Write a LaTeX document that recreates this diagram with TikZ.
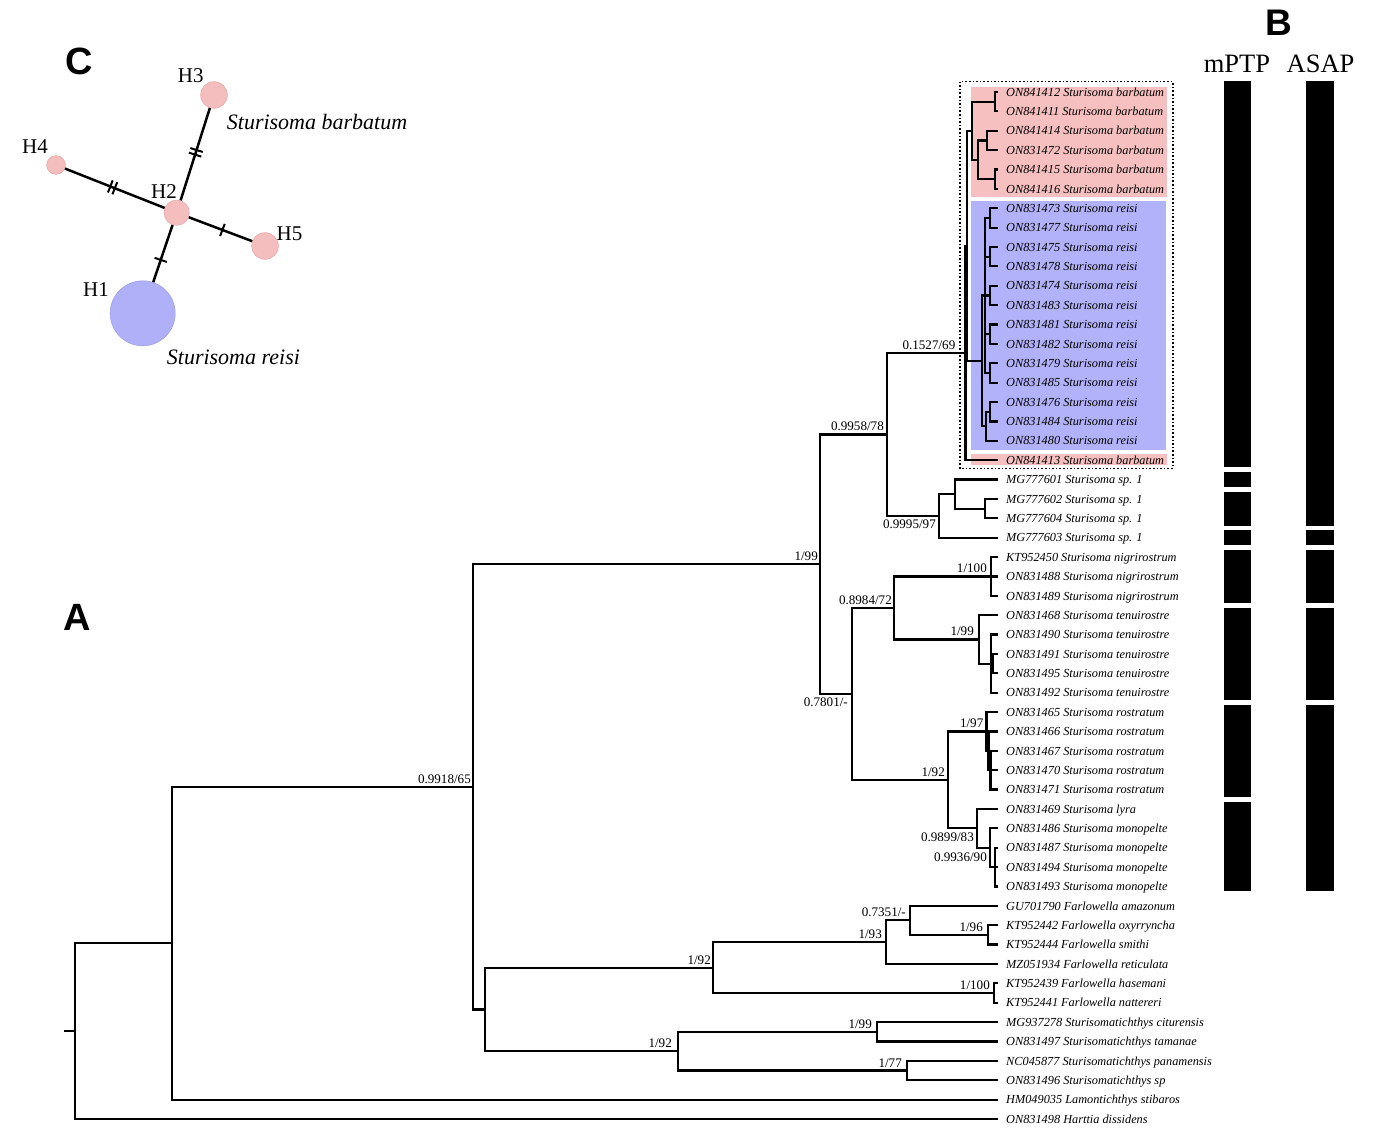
\documentclass[tikz,border=0pt]{standalone}
\usepackage{fontspec}
\setmainfont{Liberation Serif}
\newfontfamily\panelfont{Liberation Sans}
\definecolor{pinkbox}{RGB}{247,192,192}
\definecolor{bluebox}{RGB}{178,178,250}
\definecolor{pinkhap}{RGB}{245,190,190}
\definecolor{bluehap}{RGB}{176,176,248}
\definecolor{pinkhapd}{RGB}{232,170,170}
\definecolor{bluehapd}{RGB}{160,160,235}
\newcommand\clade[2]{\foreach \ch in {#2}{\draw[br] (#1) |- (\ch);}}
\begin{document}
\begin{tikzpicture}[x=1pt,y=-1pt,
  br/.style={line width=2.2pt},
  leaf/.style={anchor=base west, inner sep=0pt, font=\fontsize{12.3}{12.3}\selectfont\itshape},
  bsup/.style={anchor=base east, inner sep=0pt, font=\fontsize{13.1}{13.1}\selectfont},
  panel/.style={anchor=base, inner sep=0pt, font=\panelfont\bfseries\fontsize{38}{38}\selectfont},
  hap/.style={circle, inner sep=0pt, line width=0.6pt},
  hlab/.style={anchor=base, inner sep=0pt, font=\fontsize{21}{21}\selectfont},
  spn/.style={anchor=base west, inner sep=0pt, font=\fontsize{22}{22}\selectfont\itshape},
  hedge/.style={line width=2.5pt},
  tick/.style={sloped, draw, inner sep=0pt, minimum width=0pt, minimum height=13pt, line width=2pt},
  colhead/.style={anchor=base, inner sep=0pt, font=\fontsize{26.5}{26.5}\selectfont},
]
\useasboundingbox (0,0) rectangle (1377,1145);

% ---------- coloured clade boxes ----------
\fill[pinkbox] (970.7,86.7) rectangle (1167,197);
\fill[bluebox] (970.7,200.7) rectangle (1166,450);
\fill[pinkbox] (970.7,454.3) rectangle (1167,465);

% ---------- leaves ----------
\foreach \i/\lab in {
 1/ON841412 Sturisoma barbatum, 2/ON841411 Sturisoma barbatum, 3/ON841414 Sturisoma barbatum,
 4/ON831472 Sturisoma barbatum, 5/ON841415 Sturisoma barbatum, 6/ON841416 Sturisoma barbatum,
 7/ON831473 Sturisoma reisi, 8/ON831477 Sturisoma reisi, 9/ON831475 Sturisoma reisi,
 10/ON831478 Sturisoma reisi, 11/ON831474 Sturisoma reisi, 12/ON831483 Sturisoma reisi,
 13/ON831481 Sturisoma reisi, 14/ON831482 Sturisoma reisi, 15/ON831479 Sturisoma reisi,
 16/ON831485 Sturisoma reisi, 17/ON831476 Sturisoma reisi, 18/ON831484 Sturisoma reisi,
 19/ON831480 Sturisoma reisi, 20/ON841413 Sturisoma barbatum,
 21/MG777601 Sturisoma sp. 1, 22/MG777602 Sturisoma sp. 1, 23/MG777604 Sturisoma sp. 1,
 24/MG777603 Sturisoma sp. 1,
 25/KT952450 Sturisoma nigrirostrum, 26/ON831488 Sturisoma nigrirostrum, 27/ON831489 Sturisoma nigrirostrum,
 28/ON831468 Sturisoma tenuirostre, 29/ON831490 Sturisoma tenuirostre, 30/ON831491 Sturisoma tenuirostre,
 31/ON831495 Sturisoma tenuirostre, 32/ON831492 Sturisoma tenuirostre,
 33/ON831465 Sturisoma rostratum, 34/ON831466 Sturisoma rostratum, 35/ON831467 Sturisoma rostratum,
 36/ON831470 Sturisoma rostratum, 37/ON831471 Sturisoma rostratum,
 38/ON831469 Sturisoma lyra,
 39/ON831486 Sturisoma monopelte, 40/ON831487 Sturisoma monopelte, 41/ON831494 Sturisoma monopelte,
 42/ON831493 Sturisoma monopelte,
 43/GU701790 Farlowella amazonum, 44/KT952442 Farlowella oxyrryncha, 45/KT952444 Farlowella smithi,
 46/MZ051934 Farlowella reticulata, 47/KT952439 Farlowella hasemani, 48/KT952441 Farlowella nattereri,
 49/MG937278 Sturisomatichthys citurensis, 50/ON831497 Sturisomatichthys tamanae,
 51/NC045877 Sturisomatichthys panamensis, 52/ON831496 Sturisomatichthys sp,
 53/HM049035 Lamontichthys stibaros, 54/ON831498 Harttia dissidens}{
  \pgfmathsetmacro\yy{92+(\i-1)*19.377}
  \coordinate (t\i) at (998,\yy);
  \node[leaf] (l\i) at (1006,\yy+4.2) {\lab};
}

% ---------- internal nodes ----------
\coordinate (rs) at (64,1031.1);
\coordinate (root) at (75,1031.1);
\coordinate (n172) at (172,943.2);
\coordinate (n473) at (473,786.8);
\coordinate (n485) at (485,1009.4);
\coordinate (n820) at (820,564.2);
\coordinate (n887) at (887,434.4);
\coordinate (n966) at (965.5,353.0);
\coordinate (nbr) at (967,245.9);
\coordinate (nb5) at (972,130.8);
\coordinate (nb1) at (995,101.7);
\coordinate (nb4) at (978,159.8);
\coordinate (nb2) at (987,140.5);
\coordinate (nb3) at (995,179.2);
\coordinate (nr) at (982,360.9);
\coordinate (nr1) at (985,295.5);
\coordinate (p1) at (990,218.0);
\coordinate (p2) at (990,256.7);
\coordinate (p3) at (990,295.5);
\coordinate (p4) at (990,334.2);
\coordinate (p5) at (990,373.0);
\coordinate (p6) at (986,426.2);
\coordinate (p6a) at (990,411.7);
\coordinate (n939) at (939,515.9);
\coordinate (n955) at (955,494.1);
\coordinate (n985s) at (985,508.6);
\coordinate (n852) at (852,693.9);
\coordinate (n894) at (894,607.9);
\coordinate (n991n) at (991,576.4);
\coordinate (n979) at (979,639.4);
\coordinate (n991t) at (991,663.6);
\coordinate (n993t) at (993,663.6);
\coordinate (n948) at (948,779.8);
\coordinate (n987r) at (986.5,731.4);
\coordinate (n988) at (988.5,750.8);
\coordinate (n989r) at (990.5,770.2);
\coordinate (n977) at (977,828.3);
\coordinate (n990m) at (990,847.7);
\coordinate (n995m) at (995,867.1);
\coordinate (f5) at (713,967.6);
\coordinate (f3) at (886,942.1);
\coordinate (f2) at (910,920.3);
\coordinate (f1) at (988,934.9);
\coordinate (f4) at (994,993.0);
\coordinate (s3) at (678,1051.1);
\coordinate (s1) at (877,1031.8);
\coordinate (s2) at (907,1070.5);

% ---------- branches ----------
\draw[br] (rs) -- (root);
\clade{root}{n172,t54}
\clade{n172}{n473,t53}
\clade{n473}{n820,n485}
\clade{n820}{n887,n852}
\clade{n887}{n966,n939}
\clade{n966}{nbr,t20}
\clade{nbr}{nb5,nr}
\clade{nb5}{nb1,nb4}
\clade{nb1}{t1,t2}
\clade{nb4}{nb2,nb3}
\clade{nb2}{t3,t4}
\clade{nb3}{t5,t6}
\clade{nr}{nr1,p6}
\clade{nr1}{p1,p2,p3,p4,p5}
\clade{p1}{t7,t8}
\clade{p2}{t9,t10}
\clade{p3}{t11,t12}
\clade{p4}{t13,t14}
\clade{p5}{t15,t16}
\clade{p6}{p6a,t19}
\clade{p6a}{t17,t18}
\clade{n939}{n955,t24}
\clade{n955}{t21,n985s}
\clade{n985s}{t22,t23}
\clade{n852}{n894,n948}
\clade{n894}{n991n,n979}
\clade{n991n}{t25,t26,t27}
\clade{n979}{t28,n991t}
\clade{n991t}{t29,n993t,t32}
\clade{n993t}{t30,t31}
\clade{n948}{n987r,n977}
\clade{n987r}{t33,n988}
\clade{n988}{t34,n989r}
\clade{n989r}{t35,t36,t37}
\clade{n977}{t38,n990m}
\clade{n990m}{t39,n995m}
\clade{n995m}{t40,t41,t42}
\clade{n485}{f5,s3}
\clade{f5}{f3,f4}
\clade{f3}{f2,t46}
\clade{f2}{t43,f1}
\clade{f1}{t44,t45}
\clade{f4}{t47,t48}
\clade{s3}{s1,s2}
\clade{s1}{t49,t50}
\clade{s2}{t51,t52}

% dotted frame round the barbatum/reisi clade
\draw[line width=1.6pt, dotted] (960,81.7) rectangle (1172.7,468.3);

% ---------- support values ----------
\node[bsup, xshift=-2pt, yshift=3.5pt] (sv1) at (n473) {0.9918/65};
\node[bsup, xshift=-2pt, yshift=3.5pt] (sv2) at (n820) {1/99};
\node[bsup, xshift=-3pt, yshift=3.5pt] (sv3) at (n887) {0.9958/78};
\node[bsup, xshift=-10pt, yshift=3.5pt] (sv4) at (n966) {0.1527/69};
\node[bsup, xshift=-3pt, yshift=-12.5pt] (sv5) at (n939) {0.9995/97};
\node[bsup, xshift=-4pt, yshift=-13pt] (sv6) at (n852) {0.7801/-};
\node[bsup, xshift=-2pt, yshift=3.5pt] (sv7) at (n894) {0.8984/72};
\node[bsup, xshift=-4pt, yshift=3.5pt] (sv8) at (n991n) {1/100};
\node[bsup, xshift=-5pt, yshift=3.5pt] (sv9) at (n979) {1/99};
\node[bsup, xshift=-3pt, yshift=3.5pt] (sv10) at (n987r) {1/97};
\node[bsup, xshift=-3pt, yshift=3.5pt] (sv11) at (n948) {1/92};
\node[bsup, xshift=-3pt, yshift=-13pt] (sv12) at (n977) {0.9899/83};
\node[bsup, xshift=-3pt, yshift=-13.5pt] (sv13) at (n990m) {0.9936/90};
\node[bsup, xshift=-4pt, yshift=3.5pt] (sv14) at (f2) {0.7351/-};
\node[bsup, xshift=-4pt, yshift=3.5pt] (sv15) at (f3) {1/93};
\node[bsup, xshift=-5pt, yshift=3.5pt] (sv16) at (f1) {1/96};
\node[bsup, xshift=-2pt, yshift=3.5pt] (sv17) at (f5) {1/92};
\node[bsup, xshift=-4pt, yshift=3.5pt] (sv18) at (f4) {1/100};
\node[bsup, xshift=-5pt, yshift=3.5pt] (sv19) at (s1) {1/99};
\node[bsup, xshift=-5pt, yshift=3.5pt] (sv20) at (s2) {1/77};
\node[bsup, xshift=-6pt, yshift=3.5pt] (sv21) at (s3) {1/92};

% ---------- panel B: species delimitation bars ----------
\node[colhead] (hm) at (1237,72.7) {mPTP};
\node[colhead] (ha) at (1320.5,72.7) {ASAP};
\begin{scope}[fill=black]
\fill (1223.5,81) rectangle (1251,467.4);
\fill (1223.5,472.3) rectangle (1251,486.7);
\fill (1223.5,491.7) rectangle (1251,525.5);
\fill (1223.5,530.4) rectangle (1251,544.8);
\fill (1223.5,549.8) rectangle (1251,603.0);
\fill (1223.5,608.0) rectangle (1251,699.9);
\fill (1223.5,704.8) rectangle (1251,796.7);
\fill (1223.5,801.7) rectangle (1251,891);
\fill (1306,81) rectangle (1333.5,525.5);
\fill (1306,530.4) rectangle (1333.5,544.8);
\fill (1306,549.8) rectangle (1333.5,603.0);
\fill (1306,608.0) rectangle (1333.5,699.9);
\fill (1306,704.8) rectangle (1333.5,891);
\end{scope}

% ---------- panel C: haplotype network ----------
\node[hap, fill=bluehap, draw=bluehapd, minimum size=65pt] (h1) at (142.7,313.3) {};
\node[hap, fill=pinkhap, draw=pinkhapd, minimum size=25.3pt] (h2) at (176.7,212.7) {};
\node[hap, fill=pinkhap, draw=pinkhapd, minimum size=26.7pt] (h3) at (214,95) {};
\node[hap, fill=pinkhap, draw=pinkhapd, minimum size=18.7pt] (h4) at (56,165) {};
\node[hap, fill=pinkhap, draw=pinkhapd, minimum size=26.7pt] (h5) at (265,246) {};
\draw[hedge] (h2) -- (h3) node[tick,pos=0.495]{} node[tick,pos=0.545]{};
\draw[hedge] (h2) -- (h4) node[tick,pos=0.50]{} node[tick,pos=0.545]{};
\draw[hedge] (h2) -- (h5) node[tick,pos=0.53]{};
\draw[hedge] (h2) -- (h1) node[tick,pos=0.61]{};
\node[hlab] (lh3) at (190.8,83) {H3};
\node[hlab] (lh4) at (35,154) {H4};
\node[hlab] (lh2) at (164,198) {H2};
\node[hlab] (lh5) at (289.5,240.7) {H5};
\node[hlab] (lh1) at (96,296.7) {H1};
\node[spn] (sb) at (226.7,130) {Sturisoma barbatum};
\node[spn] (sr) at (166.7,364) {Sturisoma reisi};

% ---------- panel letters ----------
\node[panel] (pc) at (79.7,75) {C};
\node[panel] (pa) at (77.5,630) {A};
\node[panel, font=\panelfont\bfseries\fontsize{37}{37}\selectfont] (pb) at (1279,36) {B};
\end{tikzpicture}
\end{document}
